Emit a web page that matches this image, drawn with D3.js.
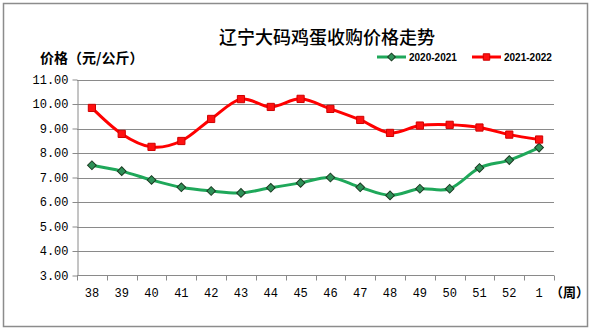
<!DOCTYPE html>
<html>
<head>
<meta charset="utf-8">
<script src="https://cdn.jsdelivr.net/npm/d3@7"></script>
<style>
  html, body { margin: 0; padding: 0; background: #fff; }
  svg { display: block; }
</style>
</head>
<body>
<svg id="chart" width="594" height="330"></svg>
<script>
// Weekly purchase price of large eggs in Liaoning (yuan/kg)
const weeks = ["38","39","40","41","42","43","44","45","46","47","48","49","50","51","52","1"];
const season2020 = [7.50,7.26,6.90,6.60,6.45,6.37,6.58,6.78,7.00,6.60,6.27,6.54,6.54,7.39,7.71,8.22];
const season2021 = [9.84,8.78,8.25,8.49,9.39,10.20,9.88,10.21,9.80,9.35,8.82,9.12,9.15,9.04,8.75,8.55];
const yTicks = [3,4,5,6,7,8,9,10,11];
const seriesNames = ["2020-2021","2021-2022"];

const svg = d3.select("#chart");
const plot = { left: 77, right: 554, top: 79.5, bottom: 275.5 };

// outer frame
svg.append("rect")
  .attr("x", 3.5).attr("y", 3.5)
  .attr("width", 584).attr("height", 323)
  .attr("fill", "#fff").attr("stroke", "#8c8c8c").attr("stroke-width", 1.5);

const x = d3.scaleBand().domain(weeks).range([plot.left, plot.right]);
const y = d3.scaleLinear().domain([3, 11]).range([plot.bottom, plot.top]);

// horizontal grid lines
svg.append("g").selectAll("line").data(yTicks.filter(v => v > 3)).join("line")
  .attr("x1", plot.left).attr("x2", plot.right)
  .attr("y1", d => Math.round(y(d)) + 0.5).attr("y2", d => Math.round(y(d)) + 0.5)
  .attr("stroke", "#8a8a8a").attr("stroke-width", 1);

// y axis
const yAxis = svg.append("g")
  .attr("transform", `translate(${plot.left + 0.5},0)`)
  .call(d3.axisLeft(y).tickValues(yTicks).tickFormat(d3.format(".2f")).tickSize(5).tickSizeOuter(0));
yAxis.select(".domain").attr("stroke", "#8a8a8a");
yAxis.selectAll(".tick line").attr("stroke", "#8a8a8a");
yAxis.selectAll(".tick text")
  .attr("x", -9)
  .attr("fill", "#000")
  .style("font-family", "'Liberation Mono', 'DejaVu Sans Mono', monospace")
  .style("font-size", "12px");

// x axis: ticks on band boundaries, labels centred in each band
const xAxisG = svg.append("g").attr("transform", `translate(0,${plot.bottom})`);
xAxisG.append("line")
  .attr("x1", plot.left).attr("x2", plot.right)
  .attr("y1", 0).attr("y2", 0)
  .attr("stroke", "#8a8a8a");
const bounds = weeks.map(w => x(w)).concat([plot.right]);
xAxisG.selectAll("line.tk").data(bounds).join("line")
  .attr("class", "tk")
  .attr("x1", d => Math.round(d) + 0.5).attr("x2", d => Math.round(d) + 0.5)
  .attr("y1", 0).attr("y2", 5)
  .attr("stroke", "#8a8a8a");
xAxisG.selectAll("text").data(weeks).join("text")
  .attr("x", d => x(d) + x.bandwidth() / 2)
  .attr("y", 21)
  .attr("text-anchor", "middle")
  .style("font-family", "'Liberation Mono', 'DejaVu Sans Mono', monospace")
  .style("font-size", "12px")
  .text(d => d);

svg.append("text")
  .attr("x", 554).attr("y", 297)
  .style("font-family", "'Noto Sans CJK SC', sans-serif")
  .style("font-size", "13px").style("font-weight", "bold")
  .text("（周）").attr("dx", -4);

// title and axis title
svg.append("text")
  .attr("x", 327).attr("y", 44)
  .attr("text-anchor", "middle")
  .style("font-family", "'Noto Sans CJK SC', sans-serif")
  .style("font-size", "18px")
  .style("font-weight", "500")
  .text("辽宁大码鸡蛋收购价格走势");

svg.append("text")
  .attr("x", 40).attr("y", 63)
  .style("font-family", "'Noto Sans CJK SC', sans-serif")
  .style("font-size", "14px").style("font-weight", "bold")
  .text("价格（元/公斤）");

// series
const cx = d => x(d) + x.bandwidth() / 2;
const line = d3.line()
  .x(d => cx(d.w)).y(d => y(d.v))
  .curve(d3.curveCatmullRom.alpha(0));

const series = [
  { name: seriesNames[0], values: season2020, line: "#1fa85a", fill: "#2e9158", stroke: "#1b3b22", rotate: 45, size: 38 },
  { name: seriesNames[1], values: season2021, line: "#ff0000", fill: "#ff1010", stroke: "#d00000", rotate: 0, size: 52 }
];

series.forEach(s => {
  const pts = weeks.map((w, i) => ({ w, v: s.values[i] }));
  svg.append("path")
    .datum(pts)
    .attr("d", line)
    .attr("fill", "none")
    .attr("stroke", s.line)
    .attr("stroke-width", 3);
  svg.append("g").selectAll("path").data(pts).join("path")
    .attr("transform", d => `translate(${cx(d.w)},${y(d.v)}) rotate(${s.rotate})`)
    .attr("d", d3.symbol().type(d3.symbolSquare).size(s.size))
    .attr("fill", s.fill)
    .attr("stroke", s.stroke)
    .attr("stroke-width", 1);
});

// legend
const legendItems = [
  { s: series[0], x0: 377 },
  { s: series[1], x0: 472 }
];
legendItems.forEach(({ s, x0 }) => {
  const g = svg.append("g").attr("transform", `translate(${x0},57)`);
  g.append("line").attr("x1", 0).attr("x2", 29).attr("y1", 0).attr("y2", 0)
    .attr("stroke", s.line).attr("stroke-width", 3);
  g.append("path").attr("transform", `translate(14.5,0) rotate(${s.rotate})`)
    .attr("d", d3.symbol().type(d3.symbolSquare).size(s.size * 0.8))
    .attr("fill", s.fill).attr("stroke", s.stroke).attr("stroke-width", 1);
  g.append("text").attr("x", 32).attr("y", 4)
    .style("font-family", "'Liberation Sans', Arial, sans-serif")
    .style("font-size", "10px").style("font-weight", "bold")
    .text(s.name);
});
</script>
</body>
</html>
